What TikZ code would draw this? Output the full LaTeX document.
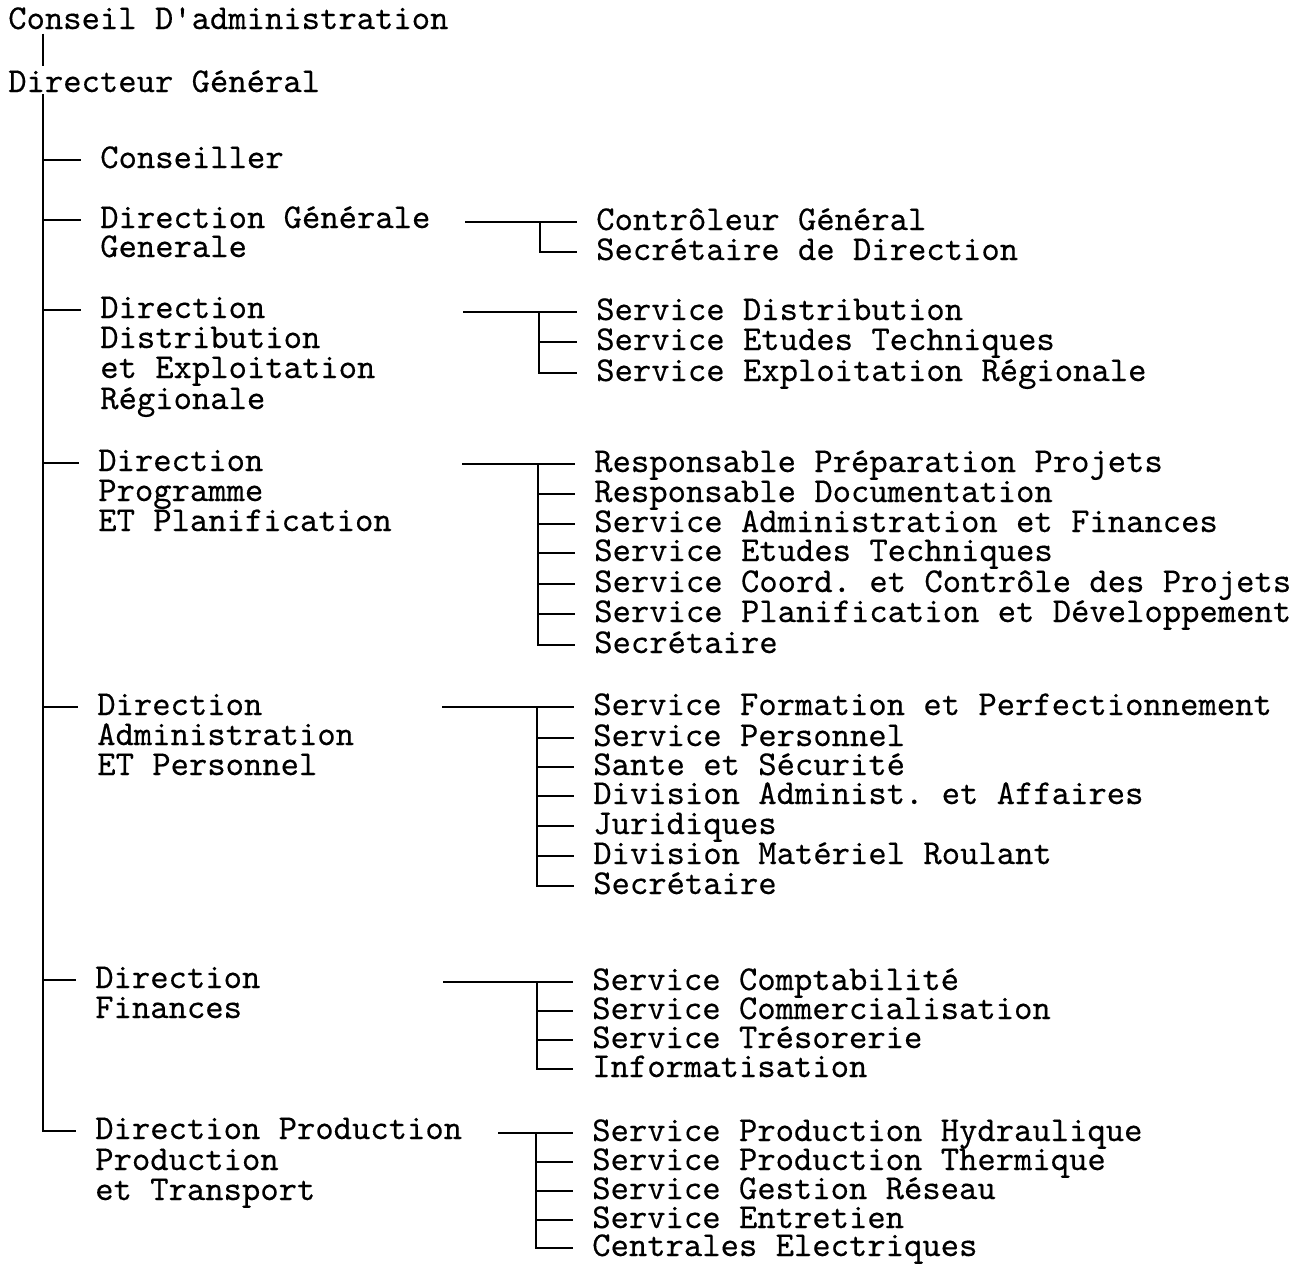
\documentclass[tikz,border=0pt]{standalone}
\usepackage{fontspec}
\setmonofont{lmmono10-regular}[Extension=.otf,FakeBold=0.35]
\begin{document}
\begin{tikzpicture}[x=0.75pt,y=-0.75pt,
  lbl/.style={anchor=base west, inner sep=0pt, font=\ttfamily\fontsize{26.2pt}{30pt}\selectfont},
  ln/.style={line width=1.3pt, line cap=butt},
  trunkln/.style={line width=1.9pt, line join=miter}]
\fill[white] (0,0) rectangle (1303,1265);
\useasboundingbox (0,0) rectangle (1303,1265);

% column coordinates
\coordinate (trunk) at (43,0);
\coordinate (sdg) at (465,0);  \coordinate (vdg) at (540,0);
\coordinate (sdd) at (463,0);  \coordinate (vdd) at (539,0);
\coordinate (spg) at (462,0);  \coordinate (vpg) at (538,0);
\coordinate (sad) at (442,0);  \coordinate (vad) at (537,0);
\coordinate (sfi) at (443,0);  \coordinate (vfi) at (537,0);
\coordinate (spr) at (498,0);  \coordinate (vpr) at (536,0);

% top
\node[lbl] (cons) at (8,29) {Conseil D'administration};
\node[lbl] (dir) at (8,92) {Directeur Général};

% main branches
\node[lbl] (consl) at (100,168) {Conseiller};
\node[lbl] (dgA) at (100,228) {Direction Générale};
\node[lbl] (dgB) at (100,257) {Generale};
\node[lbl] (ddA) at (100,318) {Direction};
\node[lbl] (ddB) at (100,348) {Distribution};
\node[lbl] (ddC) at (100,378) {et Exploitation};
\node[lbl] (ddD) at (100,409) {Régionale};
\node[lbl] (pgA) at (98,471) {Direction};
\node[lbl] (pgB) at (98,501) {Programme};
\node[lbl] (pgC) at (98,531) {ET Planification};
\node[lbl] (adA) at (97,715) {Direction};
\node[lbl] (adB) at (97,745) {Administration};
\node[lbl] (adC) at (97,775) {ET Personnel};
\node[lbl] (fiA) at (95,988) {Direction};
\node[lbl] (fiB) at (95,1018) {Finances};
\node[lbl] (prA) at (95,1139) {Direction Production};
\node[lbl] (prB) at (95,1170) {Production};
\node[lbl] (prC) at (95,1200) {et Transport};

% children: Direction Generale
\node[lbl] (dg1) at (596,230) {Contrôleur Général};
\node[lbl] (dg2) at (596,260) {Secrétaire de Direction};
% Distribution
\node[lbl] (dd1) at (596,320) {Service Distribution};
\node[lbl] (dd2) at (596,350) {Service Etudes Techniques};
\node[lbl] (dd3) at (596,381) {Service Exploitation Régionale};
% Programme
\node[lbl] (pg1) at (594,472) {Responsable Préparation Projets};
\node[lbl] (pg2) at (594,502) {Responsable Documentation};
\node[lbl] (pg3) at (594,532) {Service Administration et Finances};
\node[lbl] (pg4) at (594,561) {Service Etudes Techniques};
\node[lbl] (pg5) at (594,592) {Service Coord. et Contrôle des Projets};
\node[lbl] (pg6) at (594,622) {Service Planification et Développement};
\node[lbl] (pg7) at (594,653) {Secrétaire};
% Administration
\node[lbl] (ad1) at (593,715) {Service Formation et Perfectionnement};
\node[lbl] (ad2) at (593,746) {Service Personnel};
\node[lbl] (ad3) at (593,775) {Sante et Sécurité};
\node[lbl] (ad4) at (593,804) {Division Administ. et Affaires};
\node[lbl] (ad5) at (593,834) {Juridiques};
\node[lbl] (ad6) at (593,864) {Division Matériel Roulant};
\node[lbl] (ad7) at (593,894) {Secrétaire};
% Finances
\node[lbl] (fi1) at (592,990) {Service Comptabilité};
\node[lbl] (fi2) at (592,1019) {Service Commercialisation};
\node[lbl] (fi3) at (592,1048) {Service Trésorerie};
\node[lbl] (fi4) at (592,1077) {Informatisation};
% Production
\node[lbl] (pr1) at (592,1141) {Service Production Hydraulique};
\node[lbl] (pr2) at (592,1170) {Service Production Thermique};
\node[lbl] (pr3) at (592,1199) {Service Gestion Réseau};
\node[lbl] (pr4) at (592,1228) {Service Entretien};
\node[lbl] (pr5) at (592,1256) {Centrales Electriques};

\tikzset{tk/.style={yshift=6pt}, tke/.style={shift={(-14pt,6pt)}}}

% trunk
\draw[trunkln] ([yshift=-3pt]trunk |- cons.south) -- ([yshift=3pt]trunk |- dir.north);
\draw[trunkln] ([yshift=-1pt]trunk |- dir.south) -- ([tk]trunk |- prA.base west) -- ([tke]prA.base west);
\foreach \n in {consl,dgA,ddA,pgA,adA,fiA}
  \draw[ln] ([tk]trunk |- \n.base west) -- ([tke]\n.base west);

% sub-trees
\draw[ln] ([tk]sdg |- dg1.base west) -- ([tke]dg1.base west);
\draw[ln] ([tk]vdg |- dg1.base west) -- ([tk]vdg |- dg2.base west) -- ([tke]dg2.base west);

\draw[ln] ([tk]sdd |- dd1.base west) -- ([tke]dd1.base west);
\draw[ln] ([tk]vdd |- dd1.base west) -- ([tk]vdd |- dd3.base west) -- ([tke]dd3.base west);
\draw[ln] ([tk]vdd |- dd2.base west) -- ([tke]dd2.base west);

\draw[ln] ([tk]spg |- pg1.base west) -- ([tke]pg1.base west);
\draw[ln] ([tk]vpg |- pg1.base west) -- ([tk]vpg |- pg7.base west) -- ([tke]pg7.base west);
\foreach \n in {pg2,pg3,pg4,pg5,pg6}
  \draw[ln] ([tk]vpg |- \n.base west) -- ([tke]\n.base west);

\draw[ln] ([tk]sad |- ad1.base west) -- ([tke]ad1.base west);
\draw[ln] ([tk]vad |- ad1.base west) -- ([tk]vad |- ad7.base west) -- ([tke]ad7.base west);
\foreach \n in {ad2,ad3,ad4,ad5,ad6}
  \draw[ln] ([tk]vad |- \n.base west) -- ([tke]\n.base west);

\draw[ln] ([tk]sfi |- fi1.base west) -- ([tke]fi1.base west);
\draw[ln] ([tk]vfi |- fi1.base west) -- ([tk]vfi |- fi4.base west) -- ([tke]fi4.base west);
\foreach \n in {fi2,fi3}
  \draw[ln] ([tk]vfi |- \n.base west) -- ([tke]\n.base west);

\draw[ln] ([tk]spr |- pr1.base west) -- ([tke]pr1.base west);
\draw[ln] ([tk]vpr |- pr1.base west) -- ([tk]vpr |- pr5.base west) -- ([tke]pr5.base west);
\foreach \n in {pr2,pr3,pr4}
  \draw[ln] ([tk]vpr |- \n.base west) -- ([tke]\n.base west);
\end{tikzpicture}
\end{document}
